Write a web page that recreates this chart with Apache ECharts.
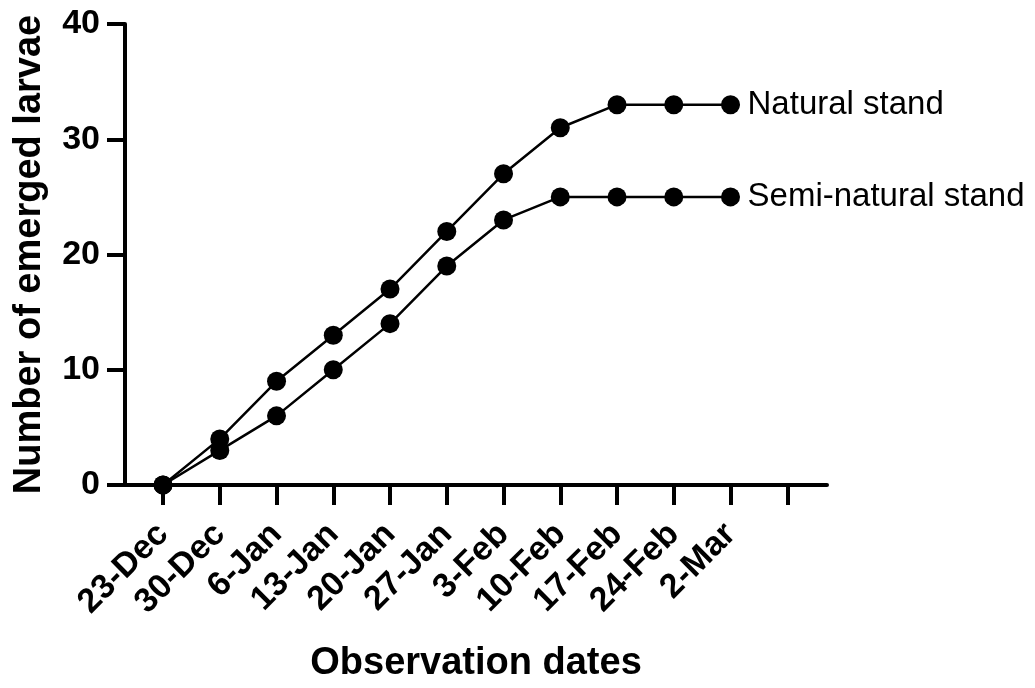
<!DOCTYPE html>
<html>
<head>
<meta charset="utf-8">
<script src="https://cdn.jsdelivr.net/npm/echarts@6/dist/echarts.min.js"></script>
<style>
html,body{margin:0;padding:0;background:#fff;}
#chart{width:1035px;height:688px;}
</style>
</head>
<body>
<div id="chart"></div>
<script>
const categories = ['23-Dec','30-Dec','6-Jan','13-Jan','20-Jan','27-Jan','3-Feb','10-Feb','17-Feb','24-Feb','2-Mar'];
const naturalStand = [0, 4, 9, 13, 17, 22, 27, 31, 33, 33, 33];
const semiNaturalStand = [0, 3, 6, 10, 14, 19, 23, 25, 25, 25, 25];
const xTickPositions = [0,1,2,3,4,5,6,7,8,9,10,11];
const yTicks = [0, 10, 20, 30, 40];

const FONT = "'Liberation Sans', Arial, Helvetica, sans-serif";
const chart = echarts.init(document.getElementById('chart'), null, {renderer: 'canvas'});

function toPairs(vals){ return vals.map((v,i)=>[i,v]); }

const seriesStyle = (name, vals) => ({
  name: name,
  type: 'line',
  data: toPairs(vals),
  symbol: 'circle',
  symbolSize: 19,
  itemStyle: {color: '#000'},
  lineStyle: {color: '#000', width: 2.5},
  animation: false,
  endLabel: {
    show: true,
    formatter: '{a}',
    color: '#000',
    fontFamily: FONT,
    fontSize: 33,
    distance: 17
  }
});

chart.setOption({
  animation: false,
  backgroundColor: '#fff',
  grid: {left: 125, right: 208, top: 24, bottom: 198, containLabel: false},
  xAxis: {
    type: 'value',
    min: -0.67,
    max: 11.7,
    name: 'Observation dates',
    nameLocation: 'middle',
    nameGap: 160,
    nameTextStyle: {fontFamily: FONT, fontSize: 38, fontWeight: 'bold', color: '#000'},
    axisLine: {show: true, onZero: false, lineStyle: {color: '#000', width: 4}},
    axisTick: {show: true, length: 20, lineStyle: {color: '#000', width: 4}, customValues: xTickPositions},
    axisLabel: {
      show: true,
      customValues: categories.map((c,i)=>i),
      formatter: (v) => categories[Math.round(v)] || '',
      rotate: 45,
      margin: 44,
      fontFamily: FONT, fontSize: 34, fontWeight: 'bold', color: '#000'
    },
    splitLine: {show: false}
  },
  yAxis: {
    type: 'value',
    min: 0,
    max: 40,
    interval: 10,
    name: 'Number of emerged larvae',
    nameLocation: 'middle',
    nameGap: 76,
    nameTextStyle: {fontFamily: FONT, fontSize: 38, fontWeight: 'bold', color: '#000'},
    axisLine: {show: true, onZero: false, lineStyle: {color: '#000', width: 4}},
    axisTick: {show: true, length: 18, lineStyle: {color: '#000', width: 4}},
    axisLabel: {
      margin: 25,
      formatter: (v) => yTicks.includes(v) ? String(v) : '',
      fontFamily: FONT, fontSize: 34, fontWeight: 'bold', color: '#000'
    },
    splitLine: {show: false}
  },
  series: [
    seriesStyle('Natural stand', naturalStand),
    seriesStyle('Semi-natural stand', semiNaturalStand)
  ]
});
</script>
</body>
</html>
